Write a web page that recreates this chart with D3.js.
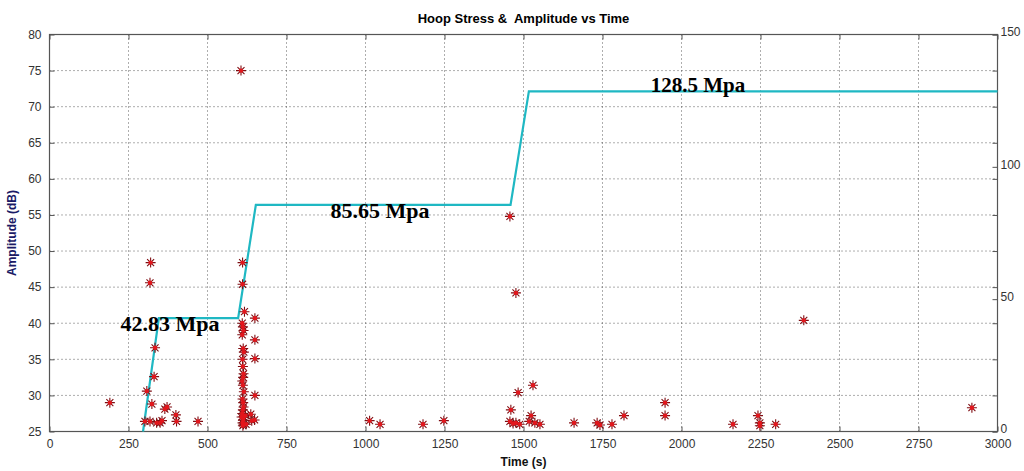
<!DOCTYPE html>
<html>
<head>
<meta charset="utf-8">
<script src="https://cdn.jsdelivr.net/npm/d3@7"></script>
<style>
  body { margin: 0; background: #fff; }
  svg { display: block; font-family: Arial, "Liberation Sans", sans-serif; }
</style>
</head>
<body>
<div id="chart"></div>
<script>
// Hoop stress step profile (time s, stress MPa on right axis)
var stressTime = [296, 346, 597, 653, 1459, 1517, 3000];
var stressValue = [0, 42.83, 42.83, 85.65, 85.65, 128.5, 128.5];

// stress labels
var stressLabels = ["42.83 Mpa", "85.65 Mpa", "128.5 Mpa"];
var stressLabelTime = [381, 1046, 2052];
var stressLabelValue = [42.83, 85.65, 128.5];
var stressLabelShift = [13, 13, 1];

// acoustic emission hits (time s, amplitude dB)
var hitTime = [191,
  320, 318, 334, 331, 308, 324, 365, 372, 400, 402, 302, 318, 339, 350, 356, 470,
  606, 611, 611, 617, 650, 650, 650, 650, 610,
  612, 614, 610, 613, 615, 611, 612, 614, 613, 610, 612, 615, 611, 613, 614, 612, 610, 615, 613, 611, 614, 612,
  637, 640, 649, 608, 620, 622,
  1013, 1046, 1182, 1248,
  1457, 1476, 1483, 1460, 1457, 1467, 1476, 1488, 1530, 1524, 1518, 1536, 1552,
  1660, 1733, 1742, 1780, 1818, 1948, 1948, 2163, 2242, 2248, 2248, 2298, 2387, 2919];
var hitAmp = [29.0,
  48.4, 45.6, 36.6, 32.6, 30.6, 28.8, 28.1, 28.4, 27.3, 26.4, 26.4, 26.4, 26.2, 26.2, 26.5, 26.4,
  75.0, 48.4, 45.4, 41.6, 40.7, 37.7, 35.1, 30.0, 40.0,
  39.5, 39.0, 38.4, 36.5, 36.0, 35.0, 34.0, 33.0, 32.5, 32.0, 31.4, 30.5, 29.5, 29.0, 28.4, 28.0, 27.5, 27.0, 26.6, 26.2, 26.0, 25.8,
  27.4, 26.5, 26.6, 27.0, 27.2, 26.0,
  26.5, 26.0, 26.0, 26.5,
  54.8, 44.2, 30.4, 28.0, 26.4, 26.1, 26.2, 26.0, 31.4, 27.2, 26.4, 26.2, 26.0,
  26.2, 26.2, 25.9, 26.0, 27.2, 29.0, 27.2, 26.0, 27.2, 26.2, 25.8, 26.0, 40.4, 28.3];

var xTicks = d3.range(0, 3001, 250);
var yTicks = d3.range(25, 81, 5);
var y2Ticks = [0, 50, 100, 150];

var width = 1024, height = 471;
var margin = { top: 34.5, right: 26.5, bottom: 39.5, left: 49.5 };
var innerW = width - margin.left - margin.right;
var innerH = height - margin.top - margin.bottom;

var svg = d3.select("#chart").append("svg").attr("width", width).attr("height", height);
var g = svg.append("g").attr("transform", "translate(" + margin.left + "," + margin.top + ")");

var x = d3.scaleLinear().domain([0, 3000]).range([0, innerW]);
var y = d3.scaleLinear().domain([25, 80]).range([innerH, 0]);
var y2 = d3.scaleLinear().domain([0, 150]).range([innerH, 0]);
var fmt = d3.format("d");

// grid
g.append("g").selectAll("line").data(xTicks.slice(1, -1)).enter().append("line")
  .attr("x1", x).attr("x2", x).attr("y1", 0).attr("y2", innerH)
  .attr("stroke", "#333").attr("stroke-width", 0.8).attr("stroke-dasharray", "1,3");
g.append("g").selectAll("line").data(yTicks.slice(1, -1)).enter().append("line")
  .attr("x1", 0).attr("x2", innerW).attr("y1", y).attr("y2", y)
  .attr("stroke", "#333").attr("stroke-width", 0.8).attr("stroke-dasharray", "1,3");

// axes
var axisColor = "#555";
function styleAxis(sel) {
  sel.selectAll(".domain").remove();
  sel.selectAll(".tick line").attr("stroke", axisColor);
  sel.selectAll(".tick text").attr("fill", "#333").style("font-size", "12px");
}
g.append("g").attr("transform", "translate(0," + innerH + ")")
  .call(d3.axisBottom(x).tickValues(xTicks).tickSize(-5).tickPadding(8).tickFormat(fmt))
  .call(styleAxis);
g.append("g")
  .call(d3.axisTop(x).tickValues(xTicks).tickSize(-5).tickFormat(""))
  .call(styleAxis);
g.append("g")
  .call(d3.axisLeft(y).tickValues(yTicks).tickSize(-5).tickPadding(8).tickFormat(fmt))
  .call(styleAxis);
g.append("g").attr("transform", "translate(" + innerW + ",0)")
  .call(d3.axisRight(y).tickValues(yTicks).tickSize(-5).tickFormat(""))
  .call(styleAxis);
var rAxis = g.append("g").attr("transform", "translate(" + innerW + ",0)")
  .call(d3.axisRight(y2).tickValues(y2Ticks).tickSize(-5).tickPadding(3).tickFormat(fmt))
  .call(styleAxis);
rAxis.selectAll(".tick text").attr("dy", "0.1em");

// frame
g.append("rect").attr("width", innerW).attr("height", innerH)
  .attr("fill", "none").attr("stroke", axisColor).attr("stroke-width", 1.2);

// stress line
var line = d3.line().x(function (d) { return x(d[0]); }).y(function (d) { return y2(d[1]); });
g.append("path").datum(d3.zip(stressTime, stressValue))
  .attr("d", line).attr("fill", "none").attr("stroke", "#1fb8c3").attr("stroke-width", 2.2);

// hits as asterisks
var hits = d3.zip(hitTime, hitAmp);
var r = 5;
var star = "M" + (-r) + ",0H" + r + "M0," + (-r) + "V" + r +
  "M" + (-r * 0.7) + "," + (-r * 0.7) + "L" + (r * 0.7) + "," + (r * 0.7) +
  "M" + (-r * 0.7) + "," + (r * 0.7) + "L" + (r * 0.7) + "," + (-r * 0.7);
var hg = g.append("g");
hg.selectAll("path").data(hits).enter().append("path")
  .attr("transform", function (d) { return "translate(" + x(d[0]) + "," + y(d[1]) + ")"; })
  .attr("d", star).attr("stroke", "#7e0d12").attr("stroke-width", 1.1).attr("fill", "none");
hg.selectAll("circle").data(hits).enter().append("circle")
  .attr("cx", function (d) { return x(d[0]); })
  .attr("cy", function (d) { return y(d[1]); })
  .attr("r", 2.2).attr("fill", "#e3161c");

// stress labels
g.append("g").selectAll("text").data(stressLabels).enter().append("text")
  .attr("x", function (d, i) { return x(stressLabelTime[i]); })
  .attr("y", function (d, i) { return y2(stressLabelValue[i]) + stressLabelShift[i]; })
  .attr("text-anchor", "middle")
  .style("font-family", "'Liberation Serif', 'Times New Roman', serif")
  .style("font-weight", "bold").style("font-size", function (d, i) { return i < 2 ? "22px" : "21px"; })
  .attr("fill", "#000")
  .text(function (d) { return d; });

// title & axis labels
svg.append("text").attr("x", margin.left + innerW / 2).attr("y", 23)
  .attr("text-anchor", "middle").style("font-weight", "bold").style("font-size", "13px")
  .style("white-space", "pre").attr("xml:space", "preserve")
  .text("Hoop Stress &  Amplitude vs Time");
svg.append("text").attr("x", margin.left + innerW / 2).attr("y", 466)
  .attr("text-anchor", "middle").style("font-weight", "bold").style("font-size", "12px")
  .attr("fill", "#111").text("Time (s)");
svg.append("text").attr("transform", "translate(16," + (margin.top + innerH / 2) + ") rotate(-90)")
  .attr("text-anchor", "middle").style("font-weight", "bold").style("font-size", "12px")
  .attr("fill", "#1a1a66").text("Amplitude (dB)");
</script>
</body>
</html>
